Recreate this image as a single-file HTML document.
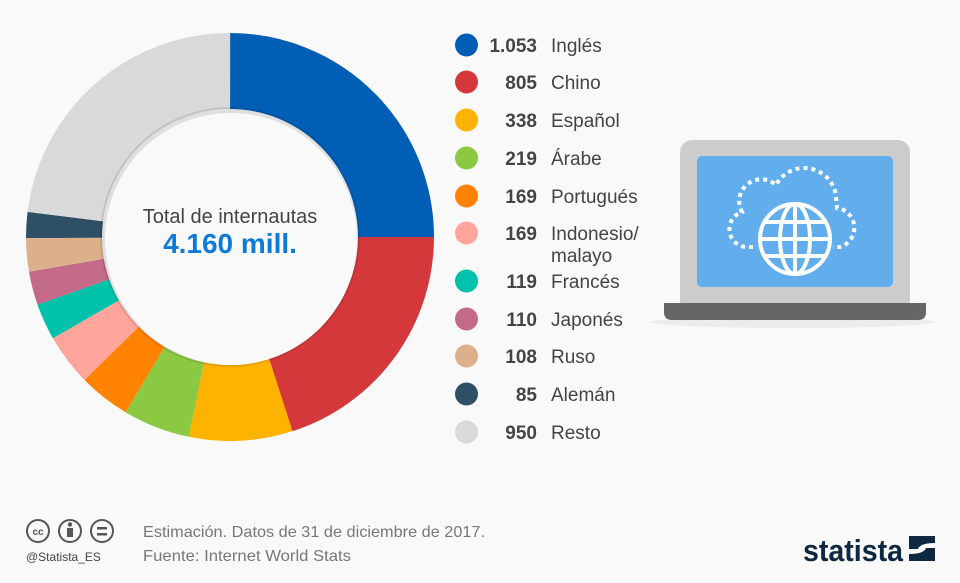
<!DOCTYPE html>
<html><head><meta charset="utf-8"><style>
html,body{margin:0;padding:0;background:#f9f9f9;}
body{width:960px;height:578px;overflow:hidden;font-family:"Liberation Sans",sans-serif;}
</style></head><body>
<svg width="960" height="578" viewBox="0 0 960 578" xmlns="http://www.w3.org/2000/svg" font-family="Liberation Sans, sans-serif">
<rect width="960" height="578" fill="#f9f9f9"/>
<g fill="none" stroke-width="76">
<circle cx="230" cy="237" r="166" stroke="#005eb5" stroke-dasharray="260.8 2000" transform="rotate(-90 230 237)"/>
<circle cx="230" cy="237" r="166" stroke="#d5383b" stroke-dasharray="209.1 2000" transform="rotate(0 230 237)"/>
<circle cx="230" cy="237" r="166" stroke="#feb300" stroke-dasharray="85.5 2000" transform="rotate(72.15 230 237)"/>
<circle cx="230" cy="237" r="166" stroke="#8cc942" stroke-dasharray="55.4 2000" transform="rotate(101.65 230 237)"/>
<circle cx="230" cy="237" r="166" stroke="#ff8300" stroke-dasharray="42.7 2000" transform="rotate(120.76 230 237)"/>
<circle cx="230" cy="237" r="166" stroke="#ffa59c" stroke-dasharray="42.7 2000" transform="rotate(135.51 230 237)"/>
<circle cx="230" cy="237" r="166" stroke="#00c2ab" stroke-dasharray="30.1 2000" transform="rotate(150.26 230 237)"/>
<circle cx="230" cy="237" r="166" stroke="#c46a89" stroke-dasharray="27.8 2000" transform="rotate(160.65 230 237)"/>
<circle cx="230" cy="237" r="166" stroke="#dcb08a" stroke-dasharray="27.3 2000" transform="rotate(170.25 230 237)"/>
<circle cx="230" cy="237" r="166" stroke="#2f4f65" stroke-dasharray="21.5 2000" transform="rotate(179.67 230 237)"/>
<circle cx="230" cy="237" r="166" stroke="#d9d9d9" stroke-dasharray="240.2 2000" transform="rotate(187.09 230 237)"/>
</g>
<circle cx="230" cy="237" r="130" fill="#000" opacity="0.1"/>
<circle cx="231" cy="239" r="126" fill="#f9f9f9"/>
<text x="230" y="223" text-anchor="middle" font-size="20" fill="#444">Total de internautas</text>
<text x="230" y="253" text-anchor="middle" font-size="28" font-weight="bold" fill="#0b7bd9">4.160 mill.</text>

<g font-size="19">
<circle cx="466.5" cy="45" r="11.5" fill="#005eb5"/>
<circle cx="466.5" cy="82" r="11.5" fill="#d5383b"/>
<circle cx="466.5" cy="120" r="11.5" fill="#feb300"/>
<circle cx="466.5" cy="158" r="11.5" fill="#8cc942"/>
<circle cx="466.5" cy="196" r="11.5" fill="#ff8300"/>
<circle cx="466.5" cy="233" r="11.5" fill="#ffa59c"/>
<circle cx="466.5" cy="281" r="11.5" fill="#00c2ab"/>
<circle cx="466.5" cy="319" r="11.5" fill="#c46a89"/>
<circle cx="466.5" cy="356" r="11.5" fill="#dcb08a"/>
<circle cx="466.5" cy="394" r="11.5" fill="#2f4f65"/>
<circle cx="466.5" cy="432" r="11.5" fill="#d9d9d9"/>
<g text-anchor="end" font-weight="bold" fill="#444">
<text x="537" y="52">1.053</text><text x="537" y="89">805</text><text x="537" y="127">338</text>
<text x="537" y="165">219</text><text x="537" y="203">169</text><text x="537" y="240">169</text>
<text x="537" y="288">119</text><text x="537" y="326">110</text><text x="537" y="363">108</text>
<text x="537" y="401">85</text><text x="537" y="439">950</text>
</g>
<g fill="#444">
<text x="551" y="52">Inglés</text><text x="551" y="89">Chino</text><text x="551" y="127">Español</text>
<text x="551" y="165">Árabe</text><text x="551" y="203">Portugués</text><text x="551" y="240">Indonesio/</text>
<text x="551" y="262">malayo</text>
<text x="551" y="288">Francés</text><text x="551" y="326">Japonés</text><text x="551" y="363">Ruso</text>
<text x="551" y="401">Alemán</text><text x="551" y="439">Resto</text>
</g>
</g>

<!-- laptop -->
<ellipse cx="793" cy="322" rx="142" ry="6" fill="#ececec"/>
<rect x="680" y="140" width="230" height="172" rx="12" fill="#cccccc"/>
<rect x="697" y="156" width="196" height="131" rx="5" fill="#62aeec"/>
<path d="M664 303 H926 V312 Q926 320 918 320 H672 Q664 320 664 312 Z" fill="#666"/>
<path d="M753 247 H745 A18 18 0 0 1 742 212 A22 22 0 0 1 776 185 A32 32 0 0 1 836 196 L837 208 A20 20 0 0 1 840 247 H833" fill="none" stroke="#fff" stroke-width="4" stroke-dasharray="4 4"/>
<g fill="none" stroke="#fff" stroke-width="4">
<circle cx="795" cy="239" r="35"/>
<ellipse cx="795" cy="239" rx="15" ry="35"/>
<line x1="795" y1="204" x2="795" y2="274"/>
<line x1="760" y1="239" x2="830" y2="239"/>
<line x1="765" y1="222" x2="825" y2="222"/>
<line x1="765" y1="256" x2="825" y2="256"/>
</g>

<!-- footer -->
<g fill="none" stroke="#555" stroke-width="2">
<circle cx="38" cy="531" r="11"/><circle cx="70" cy="531" r="11"/><circle cx="102" cy="531" r="11"/>
</g>
<text x="38" y="535" text-anchor="middle" font-size="10" font-weight="bold" fill="#555">cc</text>
<circle cx="70" cy="524.5" r="2.2" fill="#555"/>
<rect x="67" y="528" width="6" height="9" fill="#555"/>
<rect x="97" y="527" width="10" height="2.5" fill="#555"/><rect x="97" y="533" width="10" height="2.5" fill="#555"/>
<text x="26" y="561" font-size="12" fill="#444">@Statista_ES</text>
<text x="143" y="537" font-size="16" fill="#777" textLength="342" lengthAdjust="spacingAndGlyphs">Estimación. Datos de 31 de diciembre de 2017.</text>
<text x="143" y="561" font-size="16" fill="#777" textLength="208" lengthAdjust="spacingAndGlyphs">Fuente: Internet World Stats</text>
<text x="803" y="561" font-size="31" font-weight="bold" fill="#0f2841" textLength="100" lengthAdjust="spacingAndGlyphs">statista</text>
<path d="M909 536 H935 V543 Q920 543 918 549 H909 Z M935 561 H909 V554 Q924 554 926 548 H935 Z" fill="#0f2841"/>
</svg>
</body></html>
